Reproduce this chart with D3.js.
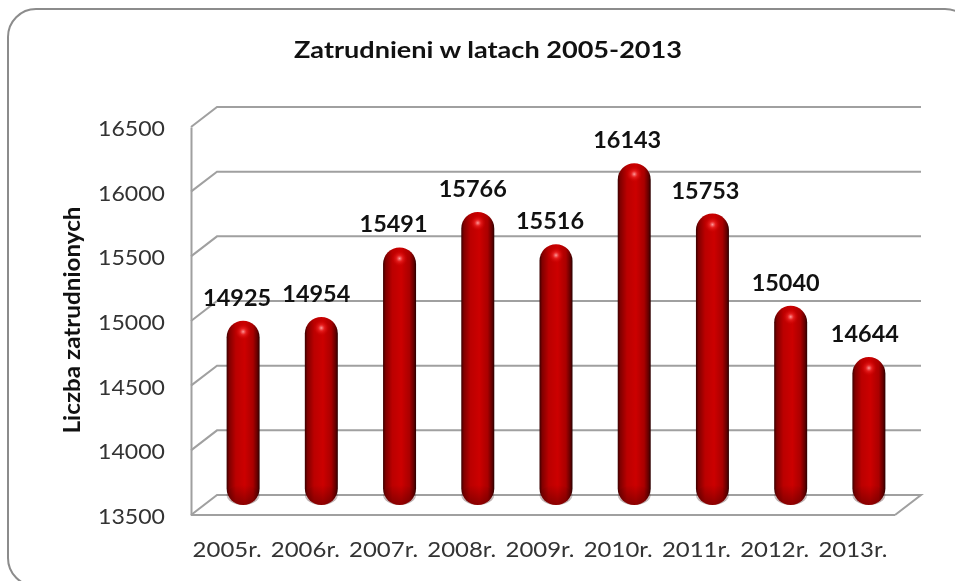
<!DOCTYPE html>
<html>
<head>
<meta charset="utf-8">
<title>Zatrudnieni w latach 2005-2013</title>
<script src="https://d3js.org/d3.v7.min.js"></script>
<style>
html, body { margin: 0; padding: 0; background: #fff; overflow: hidden; }
svg { filter: blur(0.45px); }
text { font-family: Lato, "Noto Sans", sans-serif; fill: #111; }
.tick text { fill: #333; }
</style>
</head>
<body>
<div id="chart"></div>
<script>
// values
const years = ["2005r.", "2006r.", "2007r.", "2008r.", "2009r.", "2010r.", "2011r.", "2012r.", "2013r."];
const employed = [14925, 14954, 15491, 15766, 15516, 16143, 15753, 15040, 14644];
const yTicks = [13500, 14000, 14500, 15000, 15500, 16000, 16500];

// the labels do not sit exactly over the bars in the original
const labelNudge = [-6, -5, -6, -5, -6, -7, -7, -5, -4];

const width = 955, height = 581;
const plot = { left: 191, right: 895, top: 127, bottom: 515 };
const depth = { x: 26, y: -20 };

const svg = d3.select("#chart")
    .append("svg")
    .attr("width", width)
    .attr("height", height)
    .style("display", "block");

const x = d3.scaleBand().domain(years).range([plot.left, plot.right]);
const y = d3.scaleLinear().domain([13500, 16500]).range([plot.bottom, plot.top]);

const defs = svg.append("defs");

// dark edges, bright middle of the cylinder
const bodyGrad = defs.append("linearGradient").attr("id", "bodyGrad");
[[0, "#3a0000"], [0.08, "#800000"], [0.28, "#bb0000"], [0.55, "#cc0000"], [0.8, "#aa0000"], [0.93, "#640000"], [1, "#2a0000"]]
    .forEach(function (s) {
        bodyGrad.append("stop").attr("offset", s[0]).attr("stop-color", s[1]);
    });

const shine = defs.append("radialGradient").attr("id", "shine");
shine.append("stop").attr("offset", 0).attr("stop-color", "#ff9a9a").attr("stop-opacity", 1);
shine.append("stop").attr("offset", 0.4).attr("stop-color", "#f02828").attr("stop-opacity", 0.7);
shine.append("stop").attr("offset", 1).attr("stop-color", "#d00000").attr("stop-opacity", 0);

const bottomShade = defs.append("linearGradient")
    .attr("id", "bottomShade").attr("x1", 0).attr("y1", 0).attr("x2", 0).attr("y2", 1);
bottomShade.append("stop").attr("offset", 0).attr("stop-color", "#300000").attr("stop-opacity", 0);
bottomShade.append("stop").attr("offset", 1).attr("stop-color", "#300000").attr("stop-opacity", 0.4);

// outer frame, runs off the right and bottom of the picture
svg.append("rect")
    .attr("x", 8)
    .attr("y", 9)
    .attr("width", 965)
    .attr("height", 577)
    .attr("rx", 28)
    .attr("fill", "#fff")
    .attr("stroke", "#8c8c8c")
    .attr("stroke-width", 2);

// back wall gridlines and the slanted part on the side wall
const grid = svg.append("g")
    .attr("fill", "none")
    .attr("stroke", "#a0a0a0")
    .attr("stroke-width", 2);

grid.selectAll("path")
    .data(yTicks)
    .join("path")
    .attr("d", function (d) {
        const p = d3.path();
        p.moveTo(plot.left, y(d));
        p.lineTo(plot.left + depth.x, y(d) + depth.y);
        p.lineTo(plot.right + depth.x, y(d) + depth.y);
        if (d === 13500) p.lineTo(plot.right, y(d));
        return p.toString();
    });

// front edge of the floor
grid.append("line")
    .attr("x1", plot.left).attr("x2", plot.right)
    .attr("y1", plot.bottom).attr("y2", plot.bottom);

// y axis
const yAxis = svg.append("g")
    .attr("transform", "translate(" + plot.left + ",0)")
    .call(d3.axisLeft(y).tickValues(yTicks).tickFormat(d3.format("d")).tickSize(0).tickPadding(26));
yAxis.select(".domain").attr("stroke", "#a0a0a0").attr("stroke-width", 2);
yAxis.selectAll("text")
    .style("font-size", "22px")
    .attr("dy", "0.38em")
    .attr("textLength", 67)
    .attr("lengthAdjust", "spacingAndGlyphs");

// x axis
const xAxis = svg.append("g")
    .attr("transform", "translate(0," + plot.bottom + ")")
    .call(d3.axisBottom(x).tickSize(0).tickPadding(26));
xAxis.select(".domain").remove();
xAxis.selectAll("text")
    .style("font-size", "22px")
    .attr("dx", -3)
    .attr("textLength", 69)
    .attr("lengthAdjust", "spacingAndGlyphs");

// bars stand halfway into the depth of the chart
const barWidth = 33;
const rows = years.map(function (d, i) { return { year: d, value: employed[i], nudge: labelNudge[i] }; });

const bars = svg.selectAll(".bar")
    .data(rows)
    .join("g")
    .attr("class", "bar")
    .attr("transform", function (d) {
        return "translate(" + (x(d.year) + x.bandwidth() / 2 + depth.x / 2 - barWidth / 2) + "," + (depth.y / 2) + ")";
    });

bars.append("rect")
    .attr("y", function (d) { return y(d.value); })
    .attr("width", barWidth)
    .attr("height", function (d) { return plot.bottom - y(d.value); })
    .attr("rx", barWidth / 2)
    .attr("fill", "url(#bodyGrad)");

bars.append("rect")
    .attr("y", plot.bottom - 20)
    .attr("width", barWidth)
    .attr("height", 20)
    .attr("rx", barWidth / 2)
    .attr("fill", "url(#bottomShade)");

bars.append("circle")
    .attr("cx", barWidth * 0.5)
    .attr("cy", function (d) { return y(d.value) + 11; })
    .attr("r", 8)
    .attr("fill", "url(#shine)");

// value labels
svg.append("g").selectAll("text")
    .data(rows)
    .join("text")
    .attr("x", function (d) { return x(d.year) + x.bandwidth() / 2 + depth.x / 2 + d.nudge; })
    .attr("y", function (d) { return y(d.value) + depth.y / 2 - 15; })
    .attr("text-anchor", "middle")
    .attr("textLength", 68)
    .attr("lengthAdjust", "spacingAndGlyphs")
    .style("font-size", "22px")
    .style("font-weight", 700)
    .text(function (d) { return d.value; });

// title
svg.append("text")
    .attr("x", 488)
    .attr("y", 58)
    .attr("text-anchor", "middle")
    .attr("textLength", 388)
    .attr("lengthAdjust", "spacingAndGlyphs")
    .style("font-size", "23px")
    .style("font-weight", 700)
    .text("Zatrudnieni w latach 2005-2013");

// y axis title
svg.append("text")
    .attr("transform", "translate(80,320) rotate(-90)")
    .attr("text-anchor", "middle")
    .attr("textLength", 227)
    .attr("lengthAdjust", "spacingAndGlyphs")
    .style("font-size", "22px")
    .style("font-weight", 700)
    .text("Liczba zatrudnionych");
</script>
</body>
</html>
